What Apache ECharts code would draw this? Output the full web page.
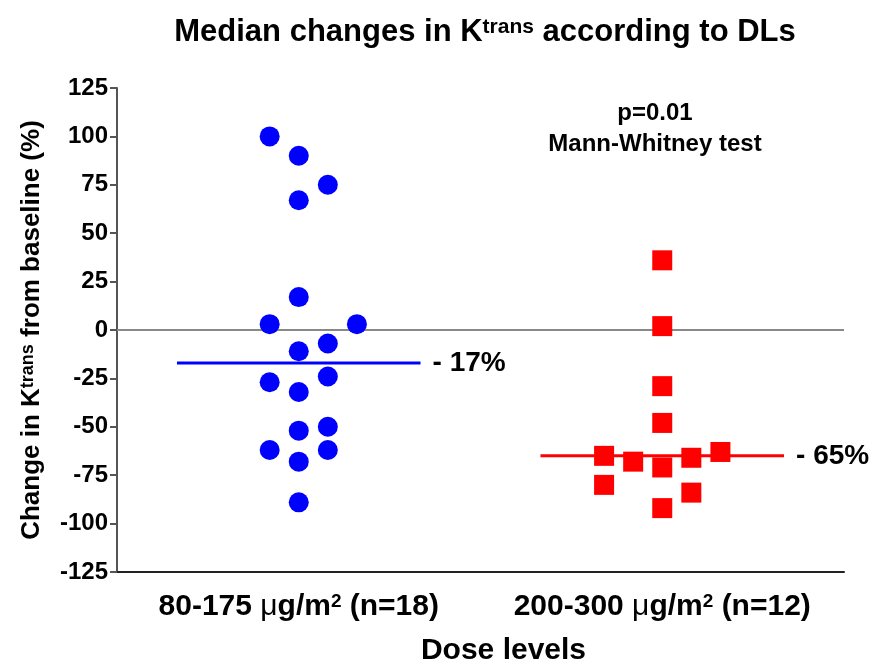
<!DOCTYPE html>
<html>
<head>
<meta charset="utf-8">
<script src="https://cdn.jsdelivr.net/npm/echarts@6/dist/echarts.min.js"></script>
<style>
  html, body { margin: 0; padding: 0; background: #fff; }
  #chart { width: 881px; height: 664px; }
</style>
</head>
<body>
<div id="chart"></div>
<script>
// group centres on the x axis and the horizontal jitter step between columns
var groupCenters = [1, 3]
var jitterStep = 0.16
var categoryLabels = ['80-175 {mu|μ}g/m{sup|2} (n=18)', '200-300 {mu|μ}g/m{sup|2} (n=12)']

// 80-175 ug/m2 : column offset and change (%)
var lowCols = [-1, 0, 1, 0, 0, -1, 2, 0, 1, -1, 1, 0, 0, 1, -1, 1, 0, 0]
var lowVals = [100, 90, 75, 67, 17, 3, 3, -11, -7, -27, -24, -32, -52, -50, -62, -62, -68, -89]

// 200-300 ug/m2
var highCols = [0, 0, 0, 0, -2, -1, 0, 1, 2, -2, 1, 0]
var highVals = [36, 2, -29, -48, -65, -68, -71, -66, -63, -80, -84, -92]

// medians
var medians = [-17, -65]
var medianLabels = ['- 17%', '- 65%']
var medianHalfWidth = 0.67

var yTicks = { min: -125, max: 125, interval: 25 }

function points (center, cols, vals) {
  var out = []
  for (var i = 0; i < vals.length; i++) {
    out.push([center + cols[i] * jitterStep, vals[i]])
  }
  return out
}

var boldFont = 'Liberation Sans, Arial, sans-serif'

function medianSeries (idx, color) {
  var c = groupCenters[idx]
  return {
    type: 'line',
    z: 3,
    symbol: 'none',
    silent: true,
    data: [[c - medianHalfWidth, medians[idx]], [c + medianHalfWidth, medians[idx]]],
    lineStyle: { color: color, width: 3 },
    endLabel: {
      show: true,
      formatter: medianLabels[idx],
      distance: 12,
      color: '#000',
      fontSize: 28,
      fontWeight: 'bold',
      fontFamily: boldFont
    }
  }
}

var chart = echarts.init(document.getElementById('chart'))

var option = {
  backgroundColor: '#fff',
  animation: false,
  title: {
    text: 'Median changes in K{sup|trans} according to DLs',
    left: 480,
    textAlign: 'center',
    top: 12,
    textStyle: {
      fontFamily: boldFont,
      fontSize: 31,
      fontWeight: 'bold',
      color: '#000',
      rich: {
        sup: { fontFamily: boldFont, fontSize: 21, fontWeight: 'bold', verticalAlign: 'top', color: '#000' }
      }
    }
  },
  graphic: [
    {
      type: 'text',
      x: 655,
      y: 98,
      style: {
        text: 'p=0.01\nMann-Whitney test',
        align: 'center',
        fontFamily: boldFont,
        fontSize: 24,
        fontWeight: 'bold',
        lineHeight: 31,
        fill: '#000'
      }
    }
  ],
  grid: { left: 117, right: 37, top: 88, bottom: 92, containLabel: false, outerBoundsMode: 'none' },
  xAxis: {
    type: 'value',
    min: 0,
    max: 4,
    name: 'Dose levels',
    nameLocation: 'middle',
    nameGap: 64,
    nameTextStyle: { fontFamily: boldFont, fontSize: 30, fontWeight: 'bold', color: '#000', padding: [0, 0, 0, 46] },
    axisLine: { show: true, onZero: false, lineStyle: { color: '#222', width: 2 } },
    axisTick: { show: false },
    splitLine: { show: false },
    axisLabel: {
      customValues: groupCenters,
      margin: 20,
      formatter: function (v) {
        return v === groupCenters[0] ? categoryLabels[0] : categoryLabels[1]
      },
      fontFamily: boldFont,
      fontSize: 30,
      fontWeight: 'bold',
      color: '#000',
      rich: {
        mu: { fontFamily: boldFont, fontSize: 30, fontWeight: 'normal', color: '#000' },
        sup: { fontFamily: boldFont, fontSize: 19, fontWeight: 'bold', verticalAlign: 'top', color: '#000' }
      }
    }
  },
  yAxis: {
    type: 'value',
    min: yTicks.min,
    max: yTicks.max,
    interval: yTicks.interval,
    name: 'Change in K{sup|trans} from baseline (%)',
    nameLocation: 'middle',
    nameGap: 72,
    nameTextStyle: {
      fontFamily: boldFont,
      fontSize: 26,
      fontWeight: 'bold',
      color: '#000',
      rich: {
        sup: { fontFamily: boldFont, fontSize: 18, fontWeight: 'bold', verticalAlign: 'top', color: '#000' }
      }
    },
    axisLine: { show: true, onZero: false, lineStyle: { color: '#555', width: 2 } },
    axisTick: { show: true, inside: false, length: 7, lineStyle: { color: '#555', width: 2 } },
    splitLine: { show: false },
    axisLabel: {
      margin: 9,
      fontFamily: boldFont,
      fontSize: 24,
      fontWeight: 'bold',
      color: '#000'
    }
  },
  series: [
    {
      type: 'line',
      data: [],
      silent: true,
      markLine: {
        silent: true,
        symbol: 'none',
        label: { show: false },
        lineStyle: { color: '#888', width: 2, type: 'solid' },
        data: [{ yAxis: 0 }]
      }
    },
    medianSeries(0, '#0000ff'),
    medianSeries(1, '#ff0000'),
    {
      type: 'scatter',
      z: 5,
      symbol: 'circle',
      symbolSize: 20,
      itemStyle: { color: '#0000ff', opacity: 1 },
      data: points(groupCenters[0], lowCols, lowVals)
    },
    {
      type: 'scatter',
      z: 5,
      symbol: 'rect',
      symbolSize: 20,
      itemStyle: { color: '#ff0000', opacity: 1 },
      data: points(groupCenters[1], highCols, highVals)
    }
  ]
}

chart.setOption(option)
</script>
</body>
</html>
